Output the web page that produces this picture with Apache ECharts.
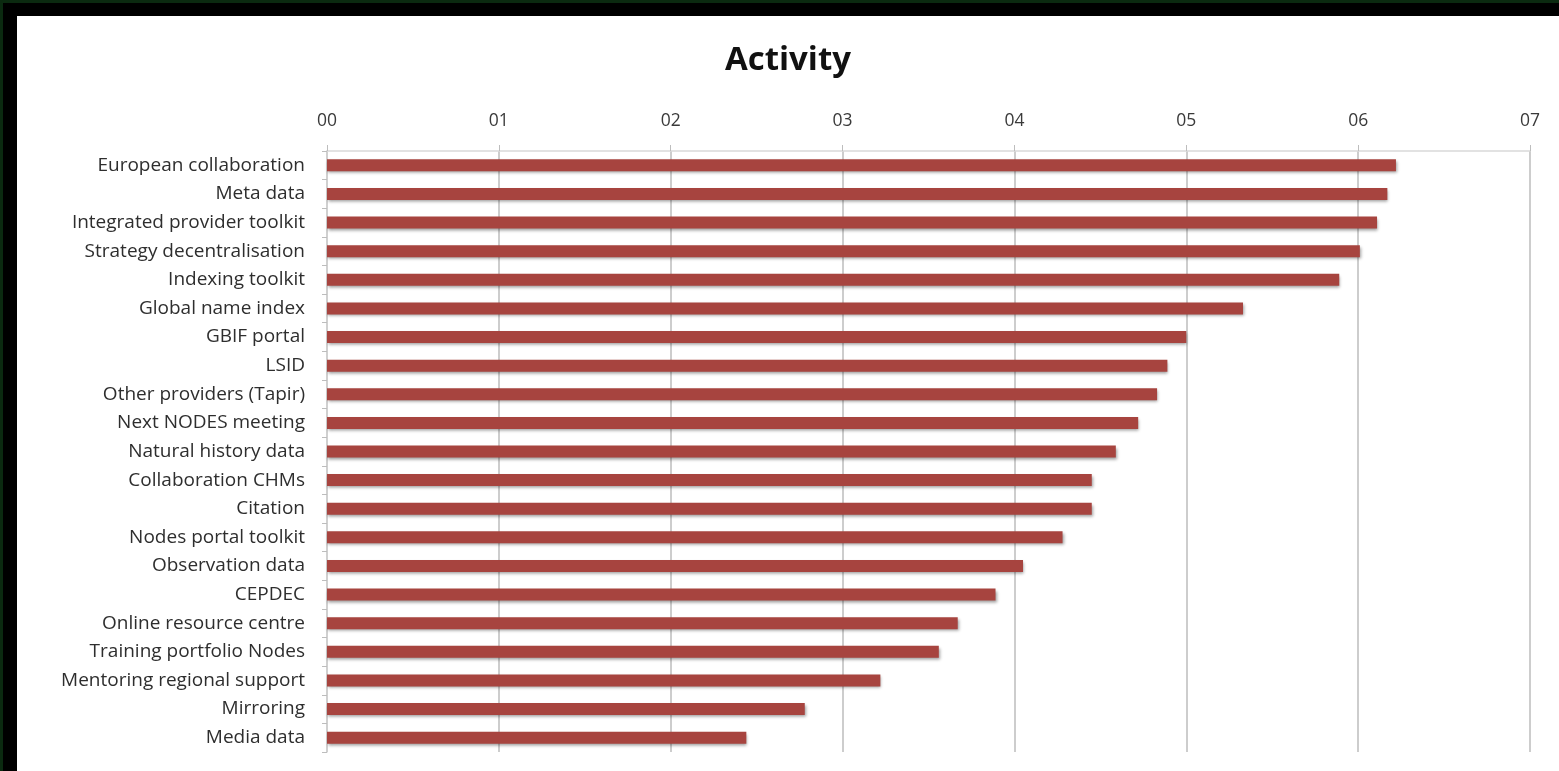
<!DOCTYPE html>
<html>
<head>
<meta charset="utf-8">
<script src="https://cdn.jsdelivr.net/npm/echarts@6/dist/echarts.min.js"></script>
<style>
  html, body { margin: 0; padding: 0; width: 1559px; height: 771px; overflow: hidden; background: #0b2a10; }
  #frame { position: absolute; left: 3px; top: 3px; right: 0; bottom: 0; background: #000; }
  #chart { position: absolute; left: 17px; top: 16px; width: 1542px; height: 755px; background: #fff; }
</style>
</head>
<body>
<div id="frame"></div>
<div id="chart"></div>
<script>
const categories = [
  "European collaboration",
  "Meta data",
  "Integrated provider toolkit",
  "Strategy decentralisation",
  "Indexing toolkit",
  "Global name index",
  "GBIF portal",
  "LSID",
  "Other providers (Tapir)",
  "Next NODES meeting",
  "Natural history data",
  "Collaboration CHMs",
  "Citation",
  "Nodes portal toolkit",
  "Observation data",
  "CEPDEC",
  "Online resource centre",
  "Training portfolio Nodes",
  "Mentoring regional support",
  "Mirroring",
  "Media data"
];
const activity = [6.22, 6.17, 6.11, 6.01, 5.89, 5.33, 5.00, 4.89, 4.83, 4.72, 4.59, 4.45, 4.45, 4.28, 4.05, 3.89, 3.67, 3.56, 3.22, 2.78, 2.44];
const tickLabels = ["00", "01", "02", "03", "04", "05", "06", "07"];

const chart = echarts.init(document.getElementById('chart'));
chart.setOption({
  animation: false,
  backgroundColor: '#ffffff',
  title: {
    text: 'Activity',
    left: 'center',
    top: 23,
    textStyle: { fontFamily: 'Open Sans', fontWeight: 'bold', fontSize: 33, color: '#111' }
  },
  grid: { left: 310, right: 29, top: 135, bottom: 19 },
  xAxis: {
    type: 'value',
    position: 'top',
    min: 0,
    max: 7,
    interval: 1,
    axisLine: { show: true, lineStyle: { color: '#d9d9d9', width: 1.5 } },
    axisTick: { show: true, length: 6, lineStyle: { color: '#bdbdbd' } },
    splitLine: { show: true, lineStyle: { color: '#bdbdbd', width: 1.5 } },
    axisLabel: {
      margin: 21,
      fontFamily: 'Open Sans',
      fontSize: 17.5,
      color: '#3a3a3a',
      formatter: function (v) { return tickLabels[Math.round(v)]; }
    }
  },
  yAxis: {
    type: 'category',
    data: categories,
    inverse: true,
    axisLine: { show: true, lineStyle: { color: '#d0d0d0', width: 1.5 } },
    axisTick: { show: true, length: 5, lineStyle: { color: '#bdbdbd' } },
    axisLabel: {
      margin: 22,
      fontFamily: 'Open Sans',
      fontSize: 19,
      color: '#2e2e2e'
    }
  },
  series: [{
    type: 'bar',
    data: activity,
    barWidth: 12,
    itemStyle: {
      color: '#a7443f',
      shadowColor: 'rgba(0,0,0,0.38)',
      shadowBlur: 3,
      shadowOffsetX: 1,
      shadowOffsetY: 2
    }
  }]
});
</script>
</body>
</html>
